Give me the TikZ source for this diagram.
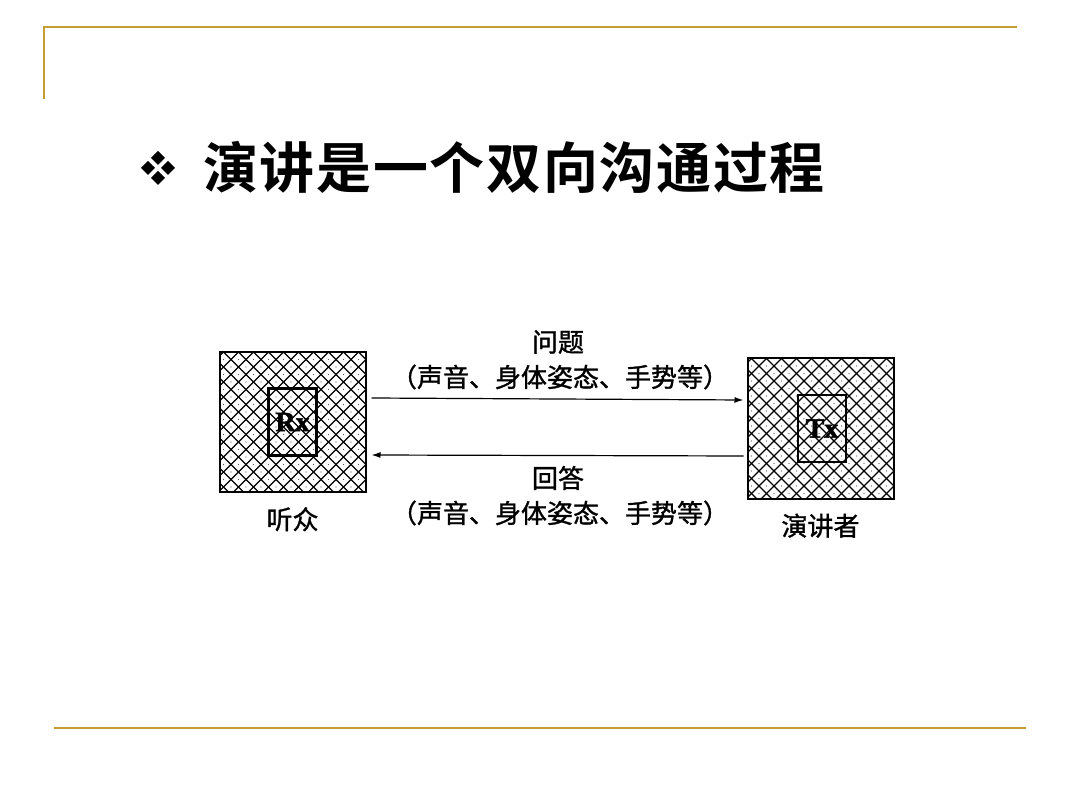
\documentclass[tikz,border=0pt]{standalone}
\usepackage{fontspec}
\setmainfont{Liberation Serif}[BoldFeatures={FakeBold=1.5}]
\newfontfamily\cjk{Noto Sans CJK SC}[FakeBold=1.2]
\newfontfamily\titlefont{Noto Sans CJK SC Bold}[LetterSpace=3]
\usetikzlibrary{arrows.meta, calc, positioning}
\definecolor{slideGold}{RGB}{196,158,48}
\definecolor{dotGray}{RGB}{90,90,90}

\tikzset{
	station/.style={draw, line width=2pt, minimum width=146pt, minimum height=140pt, inner sep=0pt,
		path picture={
			\foreach \i in {-11,...,21} {
				\draw[line width=1.4pt] ($(path picture bounding box.north west)+(\i*15pt+4pt,0)$) -- ++(170pt,-170pt);
				\draw[line width=1.4pt] ($(path picture bounding box.north west)+(\i*15pt+4pt,0)$) -- ++(-170pt,-170pt);
			}
			\foreach \a in {0,...,10} {
				\foreach \b in {0,...,10} {
					\fill[dotGray] ($(path picture bounding box.north west)+(\a*15pt+11.5pt,-\b*15pt)$) circle (0.7pt);
					\fill[dotGray] ($(path picture bounding box.north west)+(\a*15pt+4pt,-\b*15pt-7.5pt)$) circle (0.7pt);
				}
			}
		}},
	unit/.style={draw, line width=2.3pt, minimum width=48pt, minimum height=67pt, inner sep=0pt, font=\fontsize{28}{30}\selectfont\bfseries},
	caption/.style={inner sep=0pt, font=\cjk\fontsize{26}{30}\selectfont},
	signal/.style={line width=1.2pt, -{Latex[length=9pt,width=6pt]}},
	rule/.style={slideGold, line cap=rect}
}

\begin{document}
\begin{tikzpicture}[x=1pt, y=-1pt]
	\useasboundingbox (0,0) rectangle (1080,810);
	\fill[white] (0,0) rectangle (1080,810);

	% slide frame
	\draw[rule, line width=2.5pt] (44,98) -- (44,27) -- (1016,27);
	\draw[rule, line width=1.5pt] (55,728) -- (1025,728);

	% title with bullet
	\foreach \dx/\dy in {0/-10, -10/0, 10/0, 0/10}
		\fill (158+\dx,168+\dy-7) -- ++(7,7) -- ++(-7,7) -- ++(-7,-7) -- cycle;
	\node[anchor=west, inner sep=0pt, font=\titlefont\fontsize{55}{60}\selectfont] (title) at (203,167) {演讲是一个双向沟通过程};

	% the two stations
	\node[station] (listener) at (292.5,422) {};
	\node[station] (speaker) at (820.5,428.5) {};
	\node[unit] (rx) at (listener.center) {Rx};
	\node[unit] (tx) at ([xshift=1.5pt]speaker.center) {Tx};
	\node[caption, below=14pt of listener] (listenerName) {听众};
	\node[caption, below=14pt of speaker] (speakerName) {演讲者};

	% messages
	\draw[signal] ([xshift=5pt,yshift=24pt]listener.east) -- ([xshift=-3pt,yshift=28.5pt]speaker.west);
	\draw[signal] ([xshift=-3pt,yshift=-27.5pt]speaker.west) -- ([xshift=5pt,yshift=-33pt]listener.east);
	\node[caption] (question) at (558,342) {问题};
	\node[caption] (questionWays) at (560,377) {（声音、身体姿态、手势等）};
	\node[caption] (answer) at (558,478) {回答};
	\node[caption] (answerWays) at (560,513) {（声音、身体姿态、手势等）};

\end{tikzpicture}
\end{document}
